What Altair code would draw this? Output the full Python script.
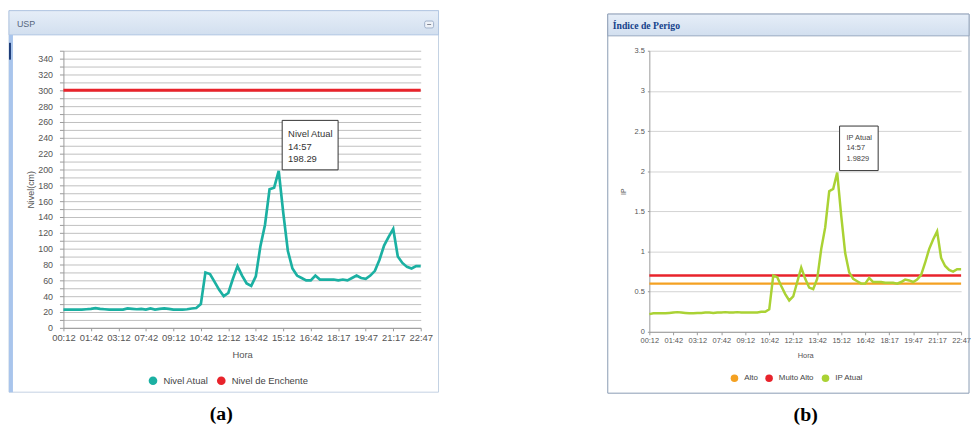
import json
import altair as alt
import pandas as pd

# ---------------- data ----------------
horas = ["00:12", "01:42", "03:12", "07:42", "09:12", "10:42", "12:12",
         "13:42", "15:12", "16:42", "18:17", "19:47", "21:17", "22:47"]

nivel = [
    23, 23, 23, 23, 23, 23.5,
    24, 25, 24, 23.5, 23, 23,
    23, 23, 24.5, 24, 23.5, 24,
    23, 24.5, 23, 24, 24.5, 24,
    23, 23, 23, 23.5, 24.5, 25,
    30, 70, 68, 58, 48, 40,
    44, 62, 78, 66, 56, 53,
    65, 103, 130, 175, 177, 198.29,
    145, 97, 75, 66, 63, 60,
    60, 66, 61, 61, 61, 61,
    60, 61, 60, 63, 66, 63,
    62, 66, 72, 86, 104, 115,
    125, 90, 82, 77, 75, 78,
    78,
]

ip = [
    0.22, 0.23, 0.23, 0.23, 0.23, 0.235,
    0.24, 0.245, 0.24, 0.235, 0.23, 0.23,
    0.235, 0.235, 0.24, 0.24, 0.235, 0.24,
    0.24, 0.245, 0.24, 0.24, 0.245, 0.24,
    0.24, 0.24, 0.24, 0.24, 0.25, 0.25,
    0.28, 0.70, 0.68, 0.57, 0.47, 0.39,
    0.44, 0.62, 0.80, 0.66, 0.55, 0.53,
    0.66, 1.03, 1.30, 1.75, 1.78, 1.9829,
    1.45, 0.98, 0.74, 0.66, 0.63, 0.60,
    0.60, 0.67, 0.62, 0.62, 0.62, 0.61,
    0.61, 0.61, 0.60, 0.62, 0.65, 0.64,
    0.62, 0.65, 0.71, 0.86, 1.03, 1.15,
    1.25, 0.92, 0.82, 0.77, 0.75, 0.78,
    0.78,
]

nivel_enchente = [300]
ip_alto = [0.6]
ip_muito_alto = [0.7]
hora_pico = "14:57"
series_a = ["Nivel Atual", "Nivel de Enchente"]
series_b = ["Alto", "Muito Alto", "IP Atual"]

# ---------------- styles ----------------
FONT = "Liberation Sans"
TEAL = "#1bb0a2"
RED = "#e8232b"
ORANGE = "#f4a122"
GREEN = "#aad234"
HEADER = {"gradient": "linear", "x1": 0, "y1": 0, "x2": 0, "y2": 1,
          "stops": [{"offset": 0, "color": "#e6eef8"},
                    {"offset": 1, "color": "#d2dfef"}]}

step = (len(nivel) - 1) // (len(horas) - 1)
tick_vals = [k * step for k in range(len(horas))]
label_expr = json.dumps(horas) + f"[round(datum.value / {step})]"

one = pd.DataFrame({"k": [0]})


def rect(x, x2, y, y2, **kw):
    return alt.Chart(one).mark_rect(**kw).encode(
        x=alt.value(x), x2=alt.value(x2), y=alt.value(y), y2=alt.value(y2))


def label(x, y, txt, **kw):
    return alt.Chart(one).mark_text(**kw).encode(
        x=alt.value(x), y=alt.value(y), text=alt.value(txt))


axis_common = dict(labelFont=FONT, titleFont=FONT, labelColor="#555",
                   titleColor="#555", titleFontWeight="normal",
                   domainColor="#9a9a9a", tickColor="#9a9a9a",
                   labelOverlap=False)

# ---------------- panel (a) ----------------
df_a = pd.DataFrame({"i": list(range(len(nivel))), "valor": nivel})
imax_a = nivel.index(max(nivel))
tip_a = pd.DataFrame({"i": [imax_a], "valor": [nivel[imax_a]],
                      "texto": [f"{series_a[0]}\n{hora_pico}\n{nivel[imax_a]:.2f}"]})

xa = alt.X("i:Q", scale=alt.Scale(domain=[0, len(nivel) - 1], nice=False, zero=False),
           axis=alt.Axis(values=tick_vals, labelExpr=label_expr, title="Hora",
                         grid=False, tickSize=3, labelPadding=1.5, labelFlush=False,
                         labelFontSize=9.5, titleFontSize=9.5,
                         minExtent=17, maxExtent=17, titlePadding=5, **axis_common))
ya = alt.Y("valor:Q", scale=alt.Scale(domain=[0, 350], nice=False),
           axis=alt.Axis(values=list(range(0, 351, 10)),
                         labelExpr="datum.value % 20 == 0 && datum.value < 350 ? datum.label : ''",
                         title="Nivel(cm)", grid=True, gridColor="#bfbfbf",
                         tickSize=4, labelPadding=7, labelFontSize=9, titleFontSize=9,
                         minExtent=24, maxExtent=24, titlePadding=4.5, **axis_common))

leg_a = alt.Chart(pd.DataFrame({"serie": series_a})).mark_point(
    filled=True, opacity=0, shape="circle").encode(
    color=alt.Color("serie:N", scale=alt.Scale(domain=series_a, range=[TEAL, RED]),
                    legend=alt.Legend(orient="none", legendX=85, legendY=328,
                                      direction="horizontal", title=None,
                                      symbolType="circle", symbolSize=76,
                                      labelFontSize=9.5, labelFont=FONT,
                                      labelColor="#444", columnPadding=7,
                                      labelOffset=5, padding=0)))

left = alt.layer(
    rect(-55, 379, -40.5, 345, fill="transparent", stroke="#c3d1e3", strokeWidth=1),
    rect(-55, 379, -40.5, -16, fill=HEADER, stroke="#aac1df", strokeWidth=0.8),
    rect(-55, -51, -16, 345, fill="#a9c5ec"),
    rect(-55, -53, -8, 9, fill="#1d3c78"),
    rect(365, 374, -30, -23, fill="#eef2f8", stroke="#8fa3bf", strokeWidth=0.8,
         cornerRadius=1.5),
    rect(367.5, 371.5, -26.8, -26, fill="#666a77"),
    label(-47, -27, "USP", align="left", baseline="middle", fontSize=9,
          font=FONT, color="#56667d"),
    label(159.5, 367, "(a)", fontSize=20, font="Liberation Serif",
          fontWeight="bold", color="#000", baseline="middle"),
    alt.Chart(df_a).mark_line(color=TEAL, strokeWidth=2.7).encode(x=xa, y=ya),
    alt.Chart(pd.DataFrame({"valor": nivel_enchente})).mark_rule(
        color=RED, strokeWidth=3).encode(y=ya),
    alt.Chart(tip_a).mark_rect(fill="white", stroke="#333", strokeWidth=1,
                               xOffset=3.5, x2Offset=60, yOffset=-51, y2Offset=-1).encode(
        x=xa, x2=alt.X2("i"), y=ya, y2=alt.Y2("valor")),
    alt.Chart(tip_a).mark_text(align="left", baseline="top", dx=9.5, dy=-42,
                               lineBreak="\n", lineHeight=12.5, fontSize=9.5,
                               font=FONT, color="#333").encode(
        x=xa, y=ya, text="texto:N"),
    leg_a,
).properties(width=361, height=280)

# ---------------- panel (b) ----------------
df_b = pd.DataFrame({"i": list(range(len(ip))), "valor": ip})
imax_b = ip.index(max(ip))
tip_b = pd.DataFrame({"i": [imax_b], "valor": [ip[imax_b]],
                      "texto": [f"{series_b[2]}\n{hora_pico}\n{ip[imax_b]:.4f}"]})

xb = alt.X("i:Q", scale=alt.Scale(domain=[0, len(ip) - 1], nice=False, zero=False),
           axis=alt.Axis(values=tick_vals, labelExpr=label_expr, title="Hora",
                         grid=False, tickSize=3, labelPadding=2, labelFlush=False,
                         labelFontSize=7.5, titleFontSize=7.5,
                         minExtent=15, maxExtent=15, titlePadding=4.5, **axis_common))
yb = alt.Y("valor:Q", scale=alt.Scale(domain=[0, 3.5], nice=False),
           axis=alt.Axis(values=[0, 0.5, 1, 1.5, 2, 2.5, 3, 3.5],
                         labelExpr="'' + datum.value", title="IP", grid=True,
                         gridColor="#d2d2d2", tickSize=2, labelPadding=3,
                         labelFontSize=7.5, titleFontSize=7,
                         minExtent=18, maxExtent=18, titlePadding=5, **axis_common))

leg_b = alt.Chart(pd.DataFrame({"serie": series_b})).mark_point(
    filled=True, opacity=0, shape="circle").encode(
    color=alt.Color("serie:N", scale=alt.Scale(domain=series_b, range=[ORANGE, RED, GREEN]),
                    legend=alt.Legend(orient="none", legendX=81, legendY=326,
                                      direction="horizontal", title=None,
                                      symbolType="circle", symbolSize=58,
                                      labelFontSize=8, labelFont=FONT,
                                      labelColor="#444", columnPadding=6,
                                      labelOffset=4.8, padding=0)))

right = alt.layer(
    rect(-42, 323, -37, 346, fill="transparent", stroke="#8a9bb3", strokeWidth=1),
    rect(-42, 323, -37, -15, fill=HEADER, stroke="#8a9bb3", strokeWidth=0.8),
    label(-37, -25, "Índice de Perigo", align="left", baseline="middle",
          fontSize=9.8, font="Liberation Serif", fontWeight="bold", color="#15428b"),
    label(158, 368, "(b)", fontSize=20, font="Liberation Serif",
          fontWeight="bold", color="#000", baseline="middle"),
    alt.Chart(pd.DataFrame({"valor": ip_alto})).mark_rule(
        color=ORANGE, strokeWidth=2.5).encode(y=yb),
    alt.Chart(pd.DataFrame({"valor": ip_muito_alto})).mark_rule(
        color=RED, strokeWidth=2.5).encode(y=yb),
    alt.Chart(df_b).mark_line(color=GREEN, strokeWidth=2.5).encode(x=xb, y=yb),
    alt.Chart(tip_b).mark_rect(fill="white", stroke="#333", strokeWidth=1,
                               xOffset=2.4, x2Offset=41.4, yOffset=-47, y2Offset=-2).encode(
        x=xb, x2=alt.X2("i"), y=yb, y2=alt.Y2("valor")),
    alt.Chart(tip_b).mark_text(align="left", baseline="top", dx=9.4, dy=-39,
                               lineBreak="\n", lineHeight=10.5, fontSize=7.5,
                               font=FONT, color="#444").encode(
        x=xb, y=yb, text="texto:N"),
    leg_b,
).properties(width=315, height=284)

chart = alt.hconcat(left, right, spacing=169).resolve_scale(
    color="independent").resolve_legend(color="independent").properties(
    padding=0, background="white").configure_view(strokeWidth=0)

chart.save("out.html", embed_options={"renderer": "svg", "actions": False})
